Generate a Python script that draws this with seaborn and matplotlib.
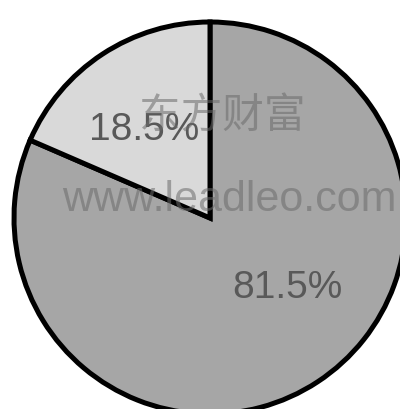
import matplotlib
matplotlib.use("Agg")
import matplotlib.pyplot as plt
import seaborn as sns
import numpy as np

labels = ["A", "B"]
values = [81.5, 18.5]
colors = ["#a6a6a6", "#d9d9d9"]
pct_labels = ["81.5%", "18.5%"]
label_angles = [-42, 127]   # degrees, label placement
label_radius = [0.53, 0.56]

sns.set_theme(style="white")
plt.rcParams['font.family'] = ['Liberation Sans', 'Noto Sans CJK SC', 'DejaVu Sans']

fig = plt.figure(figsize=(4.0, 4.09), dpi=100)
ax = fig.add_axes([0, 0, 1, 1])
ax.pie(values, colors=colors, startangle=90, counterclock=False,
       wedgeprops=dict(edgecolor="black", linewidth=3.6))
for lab, ang, r in zip(pct_labels, label_angles, label_radius):
    t = np.deg2rad(ang)
    ax.text(r*np.cos(t), r*np.sin(t), lab, ha="center", va="center",
            fontsize=28, color="#595959")

R = 196.0
cx, cy = 210.0, 218.0
ax.set_xlim((0 - cx)/R, (400 - cx)/R)
ax.set_ylim((cy - 409)/R, (cy - 0)/R)
ax.set_aspect("auto")
ax.axis("off")

# watermark
ax.text((222 - cx)/R, (cy - 117)/R, "东方财富", ha="center", va="center", fontsize=30,
        color="#6a6a6a", alpha=0.55, family=["Noto Sans CJK SC", "DejaVu Sans"])
ax.text((229 - cx)/R, (cy - 200)/R, "www.leadleo.com", ha="center", va="center", fontsize=31,
        color="#6a6a6a", alpha=0.55)

fig.savefig("out.png", dpi=100, facecolor="white")
